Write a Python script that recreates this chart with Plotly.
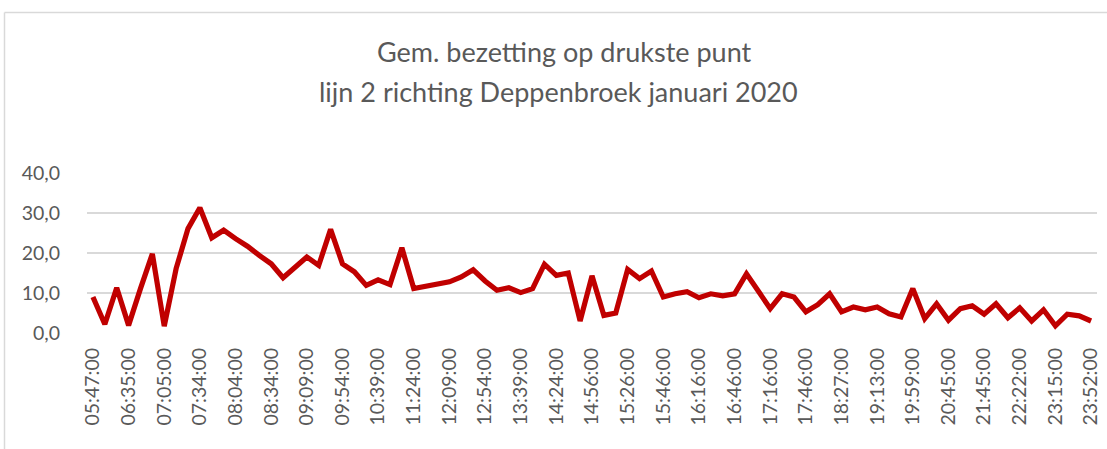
import plotly.graph_objects as go

times = [
    "05:47:00", "06:05:00", "06:20:00", "06:35:00", "06:45:00", "06:55:00",
    "07:05:00", "07:15:00", "07:24:00", "07:34:00", "07:44:00", "07:54:00",
    "08:04:00", "08:14:00", "08:24:00", "08:34:00", "08:46:00", "08:57:00",
    "09:09:00", "09:24:00", "09:39:00", "09:54:00", "10:09:00", "10:24:00",
    "10:39:00", "10:54:00", "11:09:00", "11:24:00", "11:39:00", "11:54:00",
    "12:09:00", "12:24:00", "12:39:00", "12:54:00", "13:09:00", "13:24:00",
    "13:39:00", "13:54:00", "14:09:00", "14:24:00", "14:34:00", "14:46:00",
    "14:56:00", "15:06:00", "15:16:00", "15:26:00", "15:31:00", "15:41:00",
    "15:46:00", "15:56:00", "16:06:00", "16:16:00", "16:26:00", "16:36:00",
    "16:46:00", "16:56:00", "17:06:00", "17:16:00", "17:26:00", "17:36:00",
    "17:46:00", "18:00:00", "18:13:00", "18:27:00", "18:42:00", "18:57:00",
    "19:13:00", "19:28:00", "19:44:00", "19:59:00", "20:14:00", "20:30:00",
    "20:45:00", "21:05:00", "21:25:00", "21:45:00", "21:57:00", "22:10:00",
    "22:22:00", "22:40:00", "22:57:00", "23:15:00", "23:27:00", "23:40:00",
    "23:52:00",
]

bezetting = [
    9.0, 2.2, 11.3, 1.9, 11.1, 19.8, 1.7, 16.1, 26.1, 31.3,
    23.8, 25.7, 23.6, 21.7, 19.4, 17.3, 13.8, 16.5, 19.0, 16.9,
    25.9, 17.3, 15.3, 11.9, 13.3, 12.1, 21.3, 11.1, 11.7, 12.2,
    12.8, 14.0, 15.8, 13.0, 10.7, 11.3, 10.1, 11.1, 17.2, 14.4,
    15.0, 3.0, 14.3, 4.4, 5.0, 15.9, 13.6, 15.5, 9.0, 9.8,
    10.3, 8.8, 9.8, 9.3, 9.8, 14.8, 10.7, 6.1, 9.8, 9.0,
    5.3, 7.1, 9.8, 5.3, 6.5, 5.8, 6.5, 4.8, 4.0, 11.1,
    3.6, 7.3, 3.2, 6.1, 6.8, 4.7, 7.3, 3.8, 6.3, 3.0,
    5.8, 1.8, 4.7, 4.3, 3.0,
]

title_line1 = "Gem. bezetting op drukste punt"
title_line2 = "lijn 2 richting Deppenbroek januari 2020"
y_ticks = [0, 10, 20, 30, 40]

W, H = 1107, 449
ML, MR, MT, MB = 87, 10, 173, 116
PW = W - ML - MR
PH = H - MT - MB

def px_x(p):
    return (p - ML) / PW

def px_y(p):
    return (H - MB - p) / PH

font_family = "Lato, 'Open Sans', sans-serif"
grey = "#595959"

fig = go.Figure()
fig.add_trace(go.Scatter(
    x=times, y=bezetting, mode="lines",
    line=dict(color="#C00000", width=5.2),
    hoverinfo="x+y",
))

fig.update_layout(
    width=W, height=H,
    margin=dict(l=ML, r=MR, t=MT, b=MB),
    paper_bgcolor="white", plot_bgcolor="white",
    separators=",.",
    showlegend=False,
    font=dict(family=font_family, color=grey),
    xaxis=dict(
        type="category", tickmode="linear", tick0=0, dtick=3,
        tickangle=-90, showgrid=False, zeroline=False,
        showline=False, ticks="", ticklabelstandoff=10,
        tickfont=dict(size=19.5, color=grey),
        range=[-0.5, len(times) - 0.5],
        automargin=False,
    ),
    yaxis=dict(
        range=[0, 40], tickvals=y_ticks, tickformat=".1f",
        showgrid=True, gridcolor="#D9D9D9", gridwidth=1.5,
        zeroline=False, showline=False, ticks="", ticklabelstandoff=26,
        tickfont=dict(size=19.5, color=grey),
        automargin=False,
    ),
    annotations=[
        dict(text=title_line1, xref="paper", yref="paper",
             x=px_x(564), y=px_y(52), xanchor="center", yanchor="middle",
             showarrow=False, font=dict(size=27, color=grey, family=font_family)),
        dict(text=title_line2, xref="paper", yref="paper",
             x=px_x(558), y=px_y(91), xanchor="center", yanchor="middle",
             showarrow=False, font=dict(size=27, color=grey, family=font_family)),
    ],
    shapes=[
        dict(type="line", xref="paper", yref="paper",
             x0=px_x(4.5), x1=px_x(W + 5), y0=px_y(12.5), y1=px_y(12.5),
             line=dict(color="#D9D9D9", width=1.5)),
        dict(type="line", xref="paper", yref="paper",
             x0=px_x(4.5), x1=px_x(4.5), y0=px_y(12.5), y1=px_y(H + 5),
             line=dict(color="#D9D9D9", width=1.5)),
    ],
)

fig.write_html(
    "out.html",
    config={"displayModeBar": False},
    post_script="document.body.style.margin='0';document.body.style.overflow='hidden';",
)
